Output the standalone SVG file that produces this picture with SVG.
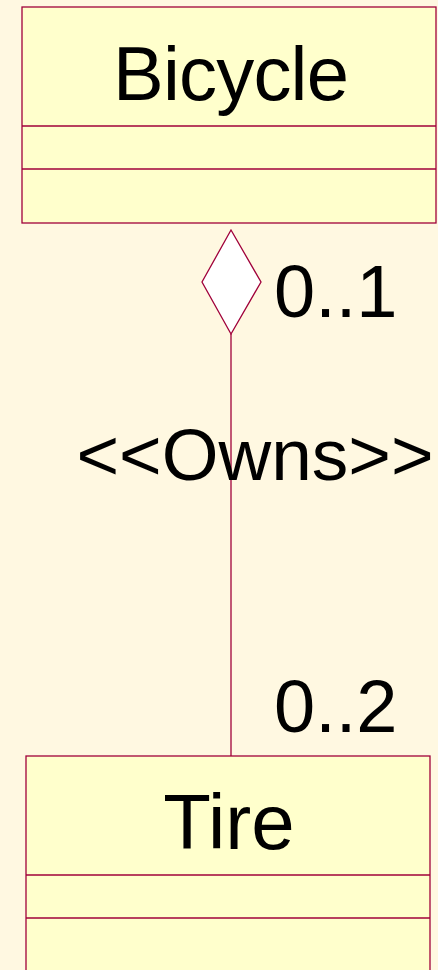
<svg xmlns="http://www.w3.org/2000/svg" width="438" height="970" viewBox="0 0 438 970">
<style>
.box{fill:#FFFFCC;stroke:#A0003A;stroke-width:1.3}
.ln{stroke:#A0003A;stroke-width:1.3;fill:none}
.t{font-family:"Liberation Sans",Arial,sans-serif;fill:#000}
</style>
<rect width="438" height="970" fill="#FFF8E1"/>
<g id="Bicycle">
<rect class="box" x="22" y="7" width="414" height="216"/>
<line class="ln" x1="22" y1="126" x2="436" y2="126"/>
<line class="ln" x1="22" y1="169" x2="436" y2="169"/>
<text class="t" x="113" y="100" font-size="76" textLength="236" lengthAdjust="spacing">Bicycle</text>
</g>
<g id="Tire">
<rect class="box" x="26" y="756" width="404" height="230"/>
<line class="ln" x1="26" y1="875" x2="430" y2="875"/>
<line class="ln" x1="26" y1="918" x2="430" y2="918"/>
<text class="t" x="229" y="849" font-size="78" text-anchor="middle">Tire</text>
</g>
<g id="connectors">
<line class="ln" x1="231" y1="334" x2="231" y2="756"/>
<polygon points="231,230 261,282 231,334 202,282" fill="#FFFFFF" stroke="#A0003A" stroke-width="1.3"/>
<text class="t" x="274" y="317" font-size="74">0..1</text>
<text class="t" x="255" y="480" font-size="73" text-anchor="middle">&lt;&lt;Owns&gt;&gt;</text>
<text class="t" x="274" y="732" font-size="74">0..2</text>
</g>
</svg>
